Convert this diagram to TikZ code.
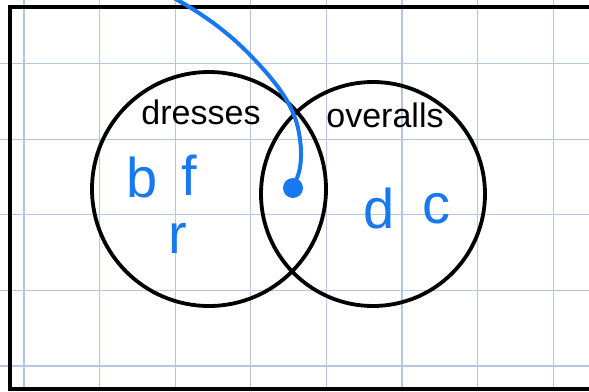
\documentclass[tikz,border=0pt]{standalone}
\usepackage{fontspec}
\setmainfont{Liberation Sans}
\usepackage{xcolor}
\definecolor{pb}{HTML}{1878F0}
\definecolor{gl}{HTML}{B4C6E2}
\definecolor{ki}{HTML}{000000}

\begin{document}
\begin{tikzpicture}[x=0.5pt,y=-0.5pt,
  setring/.style={draw=ki,line width=1.9pt,circle,inner sep=0pt,minimum size=#1},
  setname/.style={ki,font=\fontsize{17}{20}\selectfont,anchor=base,inner sep=0pt},
  elem/.style={pb,font=\fontsize{28}{32}\selectfont,anchor=base,inner sep=0pt}]
  \useasboundingbox (0,0) rectangle (589,391);
  \fill[white] (0,0) rectangle (589,391);

  % Squared paper underneath everything
  \foreach \x in {0,...,7} {
    \draw[gl,line width=0.6pt] (24+75.6*\x,0) -- (24+75.6*\x,391);
  }
  \foreach \y in {0,...,4} {
    \draw[gl,line width=0.6pt] (0,63.5+75.6*\y) -- (589,63.5+75.6*\y);
  }

  % Frame (open on the right)
  \draw[ki,line width=2pt] (589,6.5) -- (10,6.5) -- (10,389) -- (589,389);

  % The two sets
  \node[setring=117pt] (dress) at (209,189) {};
  \node[setring=112pt] (over) at (373,194) {};
  \node[setname] (dresslbl) at (201,124) {dresses};
  \node[setname] (overlbl) at (385,127) {overalls};

  % Elements, written in blue
  \node[elem] (eb) at (142,197) {b};
  \node[elem] (ef) at (189,195) {f};
  \node[elem] (er) at (178,253) {r};
  \node[elem] (ed) at (379,228) {d};
  \node[elem] (ec) at (436,223) {c};

  % Pen stroke dropping into the overlap
  \node[circle,fill=pb,inner sep=0pt,minimum size=10pt] (dot) at (293,188) {};
  \coordinate (pen) at (172,-3);
  \draw[pb,line width=2pt,line cap=round] (pen) .. controls (204.5,14.6) and (230,34) .. (252,57)
    .. controls (272.7,78.6) and (294.2,103.3) .. (299,133)
    .. controls (302,150) and (302,166) .. (dot);
\end{tikzpicture}
\end{document}
